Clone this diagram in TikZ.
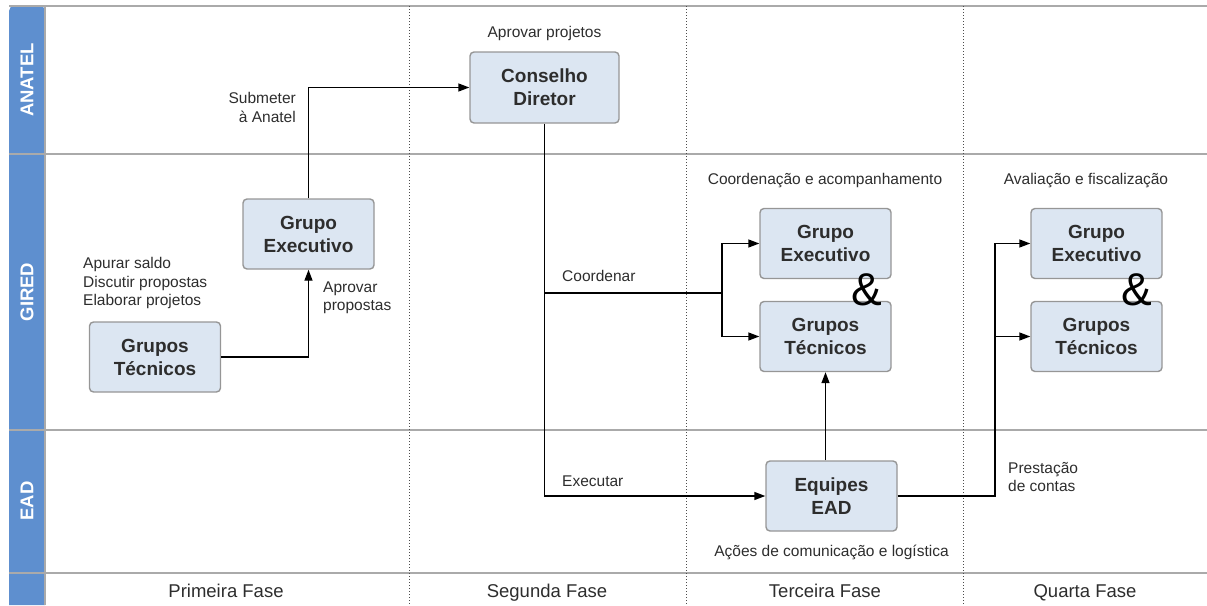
\documentclass[tikz,border=0pt]{standalone}
\usepackage{fontspec}
\setmainfont{Liberation Sans}
\usetikzlibrary{positioning,arrows.meta}
\definecolor{lanefill}{RGB}{94,143,207}
\definecolor{boxfill}{RGB}{220,230,242}
\definecolor{boxedge}{RGB}{150,150,150}
\definecolor{laneedge}{RGB}{170,170,170}
\definecolor{ink}{RGB}{45,45,45}

\begin{document}
\begin{tikzpicture}[
  x=1pt, y=-1pt,
  box/.style = {shape=rectangle, rounded corners=4pt, draw=boxedge, line width=1.4pt,
    fill=boxfill, minimum width=131pt, minimum height=70pt, align=center, text=ink,
    font=\fontsize{19}{23}\selectfont\bfseries},
  note/.style = {inner sep=0pt, text=ink, font=\fontsize{15.5}{18.5}\selectfont},
  lanename/.style = {rotate=90, text=white, font=\fontsize{18.5}{20}\selectfont\bfseries},
  phase/.style = {anchor=base, text=ink, font=\fontsize{18.5}{20}\selectfont},
  amp/.style = {inner sep=0pt, font=\fontsize{46}{46}\selectfont},
  flow/.style = {draw, line width=1.4pt, -{Triangle[length=11pt,width=8pt]}}
]
  \useasboundingbox (0,0) rectangle (1207,605);

  % lanes and phases
  \fill[lanefill] (9,605) [rounded corners=5pt] -- (9,6) -- (45,6) [sharp corners] -- (45,605) -- cycle;
  \draw[laneedge, line width=1.5pt] (9,6) -- (1207,6);
  \draw[laneedge, line width=1.5pt] (45,6) -- (45,605);
  \foreach \y in {154,430,573}
    \draw[laneedge, line width=2pt] (9,\y) -- (1207,\y);
  \foreach \x in {409,686,963}
    \draw[dotted, line width=1pt, black!70] (\x,6) -- (\x,605);

  \node[lanename] (anatel) at (27,80) {ANATEL};
  \node[lanename] (gired) at (27,292) {GIRED};
  \node[lanename] (ead) at (27,501) {EAD};

  \node[phase] (fase1) at (226,597) {Primeira Fase};
  \node[phase] (fase2) at (547,597) {Segunda Fase};
  \node[phase] (fase3) at (825,597) {Terceira Fase};
  \node[phase] (fase4) at (1085,597) {Quarta Fase};

  % boxes
  \node[box] (tec1) at (155,357) {Grupos\\Técnicos};
  \node[box] (exe1) at (308.5,234) {Grupo\\Executivo};
  \node[box, minimum width=149pt, minimum height=71pt] (conselho) at (544.5,87.5) {Conselho\\Diretor};
  \node[box] (exe3) at (825.5,243.5) {Grupo\\Executivo};
  \node[box] (tec3) at (825.5,336.5) {Grupos\\Técnicos};
  \node[box] (exe4) at (1096.5,243.5) {Grupo\\Executivo};
  \node[box] (tec4) at (1096.5,336.5) {Grupos\\Técnicos};
  \node[box] (equipes) at (831.5,496) {Equipes\\EAD};

  \node[amp] (amp3) at (867,290) {\&};
  \node[amp] (amp4) at (1137,290) {\&};

  % texts
  \node[note, above=10pt of conselho] (aprovar) {Aprovar projetos};
  \node[note, align=right, anchor=east] (submeter) at (296,107.5) {Submeter\\à Anatel};
  \node[note, align=left, anchor=west] (tarefas) at (83,283) {Apurar saldo\\Discutir propostas\\Elaborar projetos};
  \node[note, align=left, anchor=west] (propostas) at (323,298) {Aprovar\\propostas};
  \node[note, anchor=west] (coordenar) at (562,276) {Coordenar};
  \node[note] (acomp) at (825,181) {Coordenação e acompanhamento};
  \node[note] (fiscal) at (1086,181) {Avaliação e fiscalização};
  \node[note, anchor=west] (executar) at (562,481) {Executar};
  \node[note, align=left, anchor=west] (contas) at (1008,477) {Prestação\\de contas};
  \node[note, below=13pt of equipes] (acoes) {Ações de comunicação e logística};

  % connectors
  \coordinate (split) at (722,293);
  \coordinate (hub) at (995,336.5);
  \draw[flow] (tec1.east) -| (exe1.south);
  \draw[flow] (exe1.north) |- (conselho.west);
  \draw[flow] (conselho.south) |- (equipes.west);
  \draw[line width=1.4pt] (conselho.south |- split) -- (split);
  \draw[flow] (split) |- (exe3.west);
  \draw[flow] (split) |- (tec3.west);
  \draw[flow] (equipes.north -| tec3.south) -- (tec3.south);
  \draw[flow] (equipes.east) -| (hub) |- (exe4.west);
  \draw[flow] (hub) -- (tec4.west);
\end{tikzpicture}
\end{document}
